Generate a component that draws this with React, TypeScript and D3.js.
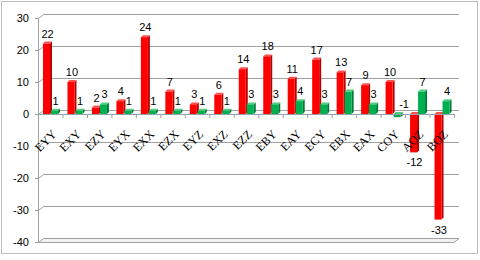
import React from "react";
import * as d3 from "d3";

const categories = ["EYY","EXY","EZY","EYX","EXX","EZX","EYZ","EXZ","EZZ","EBY","EAY","ECY","EBX","EAX","COY","AOZ","BOZ"];
const redValues = [22,10,2,4,24,7,3,6,14,18,11,17,13,9,10,-12,-33];
const greenValues = [1,1,3,1,1,1,1,1,3,3,4,3,7,3,-1,7,4];
const yTicks = [-40,-30,-20,-10,0,10,20,30];

const W = 480, H = 260;
const DX = 5, DY = -4; // wall depth
const BD = 2, BDY = -2; // bar depth

export default function App() {
  const x = d3.scaleBand<string>().domain(categories).range([38, 454]).padding(0);
  const y = d3.scaleLinear().domain([-40, 30]).range([242, 18]);
  const y0 = y(0);
  const bw = x.bandwidth();
  const barW = 7;

  const series = [
    { values: redValues, off: 5, front: "#FF0000", side: "#B80000", top: "#FF5050" },
    { values: greenValues, off: 13, front: "#00B050", side: "#007A36", top: "#4CD080" },
  ];

  const sans = "'Liberation Sans', Arial, sans-serif";
  const serif = "'Liberation Serif', 'Times New Roman', serif";

  return (
    <svg width={W} height={H} style={{ position: "absolute", left: 0, top: 0, background: "#fff" }}>
      <rect x={1.5} y={1.5} width={476} height={252} fill="#fff" stroke="#BDBDBD" />
      {/* left wall line */}
      <line x1={38.5} x2={38.5} y1={y(30)} y2={y(-40)} stroke="#A0A0A0" />
      {/* gridlines on back wall */}
      {yTicks.filter(t => t !== -40 && t !== 0).map(t => (
        <g key={t}>
          <line x1={38.5} y1={y(t) + 0.5} x2={38.5 + DX} y2={y(t) + DY + 0.5} stroke="#A0A0A0" />
          <line x1={38.5 + DX} x2={454 + DX} y1={y(t) + DY + 0.5} y2={y(t) + DY + 0.5} stroke="#A0A0A0" />
          <line x1={35} x2={38.5} y1={y(t) + 0.5} y2={y(t) + 0.5} stroke="#A0A0A0" />
        </g>
      ))}
      <line x1={38.5} y1={y0 + 0.5} x2={38.5 + DX} y2={y0 + DY + 0.5} stroke="#A0A0A0" />
      <line x1={38.5 + DX} x2={454 + DX} y1={y0 + DY + 0.5} y2={y0 + DY + 0.5} stroke="#A0A0A0" />
      <line x1={35} x2={38.5} y1={y0 + 0.5} y2={y0 + 0.5} stroke="#A0A0A0" />
      {/* floor slab at -40 */}
      <path
        d={`M38.5,${y(-40) + 0.5} L${38.5 + DX},${y(-40) + DY + 0.5} L${454 + DX},${y(-40) + DY + 0.5} L454,${y(-40) + 0.5} Z`}
        fill="#F2F2F2" stroke="#A0A0A0" />
      <line x1={35} x2={38.5} y1={y(-40) + 0.5} y2={y(-40) + 0.5} stroke="#A0A0A0" />
      {/* y labels */}
      {yTicks.map(t => (
        <text key={t} x={29} y={y(t)} dy="0.35em" textAnchor="end" fontFamily={sans} fontSize={11} fill="#000">{t}</text>
      ))}
      {/* bars */}
      {categories.map((c, i) => (
        <g key={c}>
          {series.map((s, k) => {
            const v = s.values[i];
            const x0 = (x(c) as number) + s.off;
            const yt = Math.min(y(v), y0);
            const yb = Math.max(y(v), y0);
            const h = Math.max(yb - yt, 1);
            return (
              <g key={k}>
                <path d={`M${x0 + barW},${yt} L${x0 + barW + BD},${yt + BDY} L${x0 + barW + BD},${yt + h + BDY} L${x0 + barW},${yt + h} Z`} fill={s.side} />
                <path d={`M${x0},${yt} L${x0 + BD},${yt + BDY} L${x0 + barW + BD},${yt + BDY} L${x0 + barW},${yt} Z`} fill={s.top} />
                <rect x={x0} y={yt} width={barW} height={h} fill={s.front} />
              </g>
            );
          })}
        </g>
      ))}
      {/* category axis at 0 */}
      <line x1={38} x2={454} y1={y0 + 0.5} y2={y0 + 0.5} stroke="#8FA3AD" />
      {categories.map((c, i) => (
        <line key={c} x1={(x(c) as number) + 0.5} x2={(x(c) as number) + 0.5} y1={y0} y2={y0 + 4} stroke="#A0A0A0" />
      ))}
      <line x1={454.5} x2={454.5} y1={y0} y2={y0 + 4} stroke="#A0A0A0" />
      {/* value labels */}
      {categories.map((c, i) => (
        <g key={c}>
          {series.map((s, k) => {
            const v = s.values[i];
            const cx = (x(c) as number) + s.off + barW / 2 + 1;
            let ly;
            if (v >= 0) ly = y(v) - 6;
            else if (v > -3) ly = y0 - 6;
            else ly = y(v) + 14;
            return (
              <text key={k} x={cx + (v < 0 && v > -3 ? 6 : 0)} y={ly} textAnchor="middle" fontFamily={sans} fontSize={11} fill="#000">{v}</text>
            );
          })}
        </g>
      ))}
      {/* category labels */}
      {categories.map(c => {
        const cx = (x(c) as number) + bw / 2 + 4;
        const cy = y0 + 18;
        return (
          <text key={c} transform={`translate(${cx},${cy}) rotate(-45)`} textAnchor="end" dy="0.35em" fontFamily={serif} fontSize={12} fill="#000">{c}</text>
        );
      })}
    </svg>
  );
}
